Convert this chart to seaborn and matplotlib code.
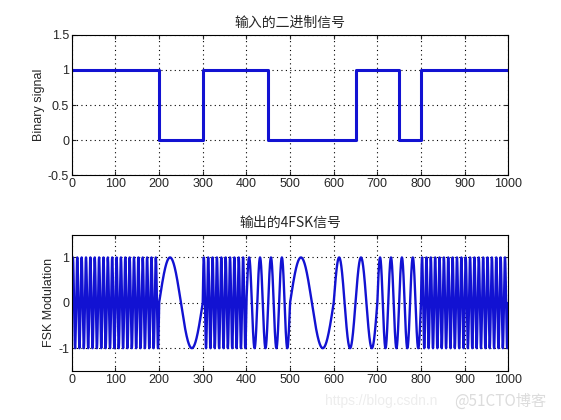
import numpy as np
import pandas as pd
import matplotlib
matplotlib.use("Agg")
import matplotlib.pyplot as plt
import seaborn as sns

# data
bit_len = 50                      # samples per bit
bits = [1, 1, 1, 1, 0, 0, 1, 1, 1, 0, 0, 0, 0, 1, 1, 0, 1, 1, 1, 1]
sym_len = 100                     # samples per 4FSK symbol (2 bits)
# cycles per symbol for each 2-bit pattern
cycles = {'00': 1, '01': 2, '10': 4, '11': 10}
xticks = list(range(0, 1001, 100))

sns.set_style("ticks")
plt.rcParams['font.family'] = ['Liberation Sans', 'Noto Sans CJK SC', 'DejaVu Sans']
plt.rcParams['xtick.direction'] = 'in'
plt.rcParams['ytick.direction'] = 'in'

blue = '#1212d2'
cjk = ['Noto Sans CJK SC', 'DejaVu Sans']

# binary signal as steps
df_bits = pd.DataFrame({
    'n': np.arange(len(bits) + 1) * bit_len,
    'bit': bits + [bits[-1]],
})

# 4FSK waveform built from the symbols
symbols = [f'{bits[i]}{bits[i + 1]}' for i in range(0, len(bits), 2)]
t = np.arange(0, len(symbols) * sym_len + 0.001, 0.25)
k = np.minimum((t // sym_len).astype(int), len(symbols) - 1)
f = np.array([cycles[symbols[i]] for i in k])
df_fsk = pd.DataFrame({'n': t, 'y': np.sin(2 * np.pi * f * t / sym_len)})

fig = plt.figure(figsize=(5.61, 4.2), dpi=100)
ax1 = fig.add_axes([0.128, 0.583, 0.778, 0.334])
ax2 = fig.add_axes([0.128, 0.117, 0.778, 0.324])

sns.lineplot(data=df_bits, x='n', y='bit', ax=ax1, color=blue, linewidth=2.2,
             drawstyle='steps-post')
ax1.set_xlim(0, 1000)
ax1.set_ylim(-0.5, 1.5)
ax1.set_yticks([-0.5, 0, 0.5, 1, 1.5])
ax1.set_yticklabels(['-0.5', '0', '0.5', '1', '1.5'])
ax1.set_title('输入的二进制信号', family=cjk, fontsize=10, pad=6)
ax1.set_ylabel('Binary signal', fontsize=9, labelpad=2)

sns.lineplot(data=df_fsk, x='n', y='y', ax=ax2, color=blue, linewidth=1.7)
ax2.set_xlim(0, 1000)
ax2.set_ylim(-1.5, 1.5)
ax2.set_yticks([-1, 0, 1])
ax2.set_yticklabels(['-1', '0', '1'])
ax2.set_title('输出的4FSK信号', family=cjk, fontsize=10, pad=6)
ax2.set_ylabel('FSK Modulation', fontsize=9, labelpad=2)

for ax in (ax1, ax2):
    ax.set_xticks(xticks)
    ax.set_xlabel('')
    ax.grid(True, color='black', linestyle=(0, (1, 3)), linewidth=0.8)
    ax.tick_params(labelsize=9, length=3, pad=2, top=True, right=True)
    for s in ax.spines.values():
        s.set_visible(True)
        s.set_linewidth(0.8)
        s.set_color('black')

# faint watermark
fig.text(0.58, 0.035, 'https://blog.csdn.n', color='#ededed', fontsize=10)
fig.text(0.81, 0.035, '@51CTO博客', family=cjk, color='#dcdcdc', fontsize=11)

fig.savefig('out.png', dpi=100)
